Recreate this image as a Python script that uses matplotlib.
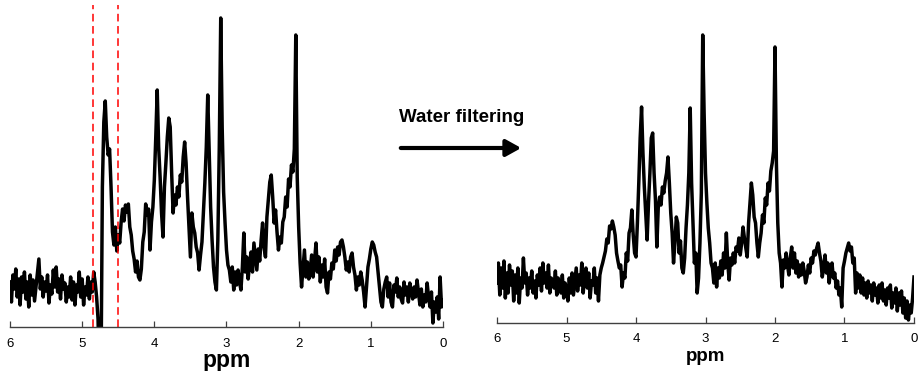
import numpy as np
import matplotlib
matplotlib.use("Agg")
import matplotlib.pyplot as plt

plt.rcParams['font.family'] = ['Liberation Sans', 'DejaVu Sans']

# spectrum intensities (a.u.), sampled every 0.02 ppm from 6.00 down to 0.00
raw_spectrum = [
    45, 25, 52, 38, 58, 30, 48, 22, 50, 35,       # 6.00
    55, 28, 45, 20, 52, 32, 47, 26, 40, 55,       # 5.80
    68, 38, 50, 30, 45, 36, 52, 24, 42, 33,       # 5.60
    57, 40, 60, 35, 48, 28, 52, 38, 44, 25,       # 5.40
    40, 30, 50, 27, 45, 22, 42, 35, 55, 30,       # 5.20
    48, 22, 40, 32, 50, 28, 45, 35, 55, 45,       # 5.00
    30, 8, -60, -60, 140, 205, 226, 190, 172, 178,  # 4.80
    140, 95, 82, 100, 76, 92, 84, 105, 118, 106,  # 4.60
    122, 115, 123, 100, 92, 76, 68, 55, 66, 50,   # 4.40
    47, 58, 85, 95, 123, 112, 118, 77, 105, 120,  # 4.20
    147, 190, 237, 180, 150, 114, 90, 140, 164, 190,  # 4.00
    209, 200, 154, 114, 132, 122, 140, 130, 152, 145,  # 3.80
    170, 185, 164, 130, 100, 70, 114, 100, 94, 80,  # 3.60
    74, 57, 72, 85, 114, 144, 180, 232, 175, 120,  # 3.40
    87, 60, 45, 37, 87, 180, 309, 200, 135, 104,  # 3.20
    77, 62, 57, 45, 60, 37, 55, 42, 57, 45,       # 3.00
    37, 60, 94, 55, 70, 48, 64, 75, 55, 84,       # 2.80
    70, 57, 78, 66, 87, 104, 80, 70, 110, 127,    # 2.60
    145, 152, 130, 104, 117, 95, 77, 90, 84, 105,  # 2.40
    110, 130, 120, 148, 140, 162, 155, 178, 292, 150,  # 2.20
    100, 64, 40, 58, 77, 50, 65, 48, 57, 72,      # 2.00
    50, 66, 84, 55, 70, 45, 62, 50, 68, 40,       # 1.80
    34, 55, 48, 64, 58, 77, 66, 80, 72, 85,       # 1.60
    87, 80, 70, 57, 65, 55, 70, 74, 60, 52,       # 1.40
    37, 50, 42, 55, 47, 35, 20, 40, 60, 68,       # 1.20
    78, 85, 82, 75, 70, 55, 40, 25, 20, 38,       # 1.00
    45, 50, 30, 44, 25, 20, 42, 35, 49, 30,       # 0.80
    40, 28, 24, 45, 32, 40, 25, 44, 35, 28,       # 0.60
    40, 30, 47, 35, 22, 38, 20, 32, 25, 44,       # 0.40
    30, 20, 35, 4, 25, 15, 30, 8, 50, 20,         # 0.20
    27,                                           # 0.00
]

filtered_spectrum = [
    40, 60, 28, 55, 35, 62, 25, 50, 30, 58,       # 6.00
    38, 52, 22, 48, 30, 55, 20, 45, 35, 65,       # 5.80
    40, 50, 28, 45, 35, 52, 30, 42, 25, 48,       # 5.60
    38, 55, 32, 60, 40, 50, 35, 58, 30, 45,       # 5.40
    42, 35, 52, 28, 45, 38, 30, 48, 25, 40,       # 5.20
    35, 22, 45, 30, 50, 28, 42, 55, 32, 48,       # 5.00
    38, 60, 30, 45, 55, 35, 50, 25, 42, 38,       # 4.80
    55, 30, 45, 22, 48, 55, 60, 66, 72, 84,       # 4.60
    80, 97, 94, 102, 96, 88, 70, 62, 55, 58,      # 4.40
    36, 50, 45, 70, 62, 90, 95, 113, 88, 70,      # 4.20
    66, 100, 140, 185, 216, 170, 136, 110, 83, 120,  # 4.00
    150, 185, 190, 150, 123, 76, 115, 126, 118, 136,  # 3.80
    130, 142, 150, 166, 140, 110, 90, 60, 80, 106,  # 3.60
    100, 70, 82, 55, 50, 65, 95, 118, 150, 215,   # 3.40
    140, 100, 60, 70, 30, 45, 80, 130, 288, 210,  # 3.20
    150, 120, 95, 80, 60, 55, 40, 60, 36, 55,     # 3.00
    45, 62, 48, 70, 55, 90, 60, 43, 65, 58,       # 2.80
    70, 60, 76, 72, 85, 68, 80, 96, 85, 75,       # 2.60
    66, 100, 120, 140, 128, 106, 100, 80, 66, 80,  # 2.40
    90, 108, 100, 125, 118, 140, 132, 152, 160, 172,  # 2.20
    276, 160, 100, 70, 60, 36, 63, 55, 70, 58,    # 2.00
    48, 65, 76, 55, 70, 50, 62, 46, 58, 48,       # 1.80
    60, 52, 40, 46, 58, 50, 65, 60, 72, 68,       # 1.60
    75, 80, 70, 62, 46, 55, 68, 50, 60, 40,       # 1.40
    55, 60, 45, 50, 35, 42, 28, 35, 16, 55,       # 1.20
    62, 70, 75, 80, 72, 76, 60, 65, 30, 50,       # 1.00
    35, 48, 30, 45, 28, 40, 25, 42, 30, 38,       # 0.80
    22, 40, 28, 35, 20, 38, 25, 40, 22, 33,       # 0.60
    18, 35, 25, 38, 15, 30, 20, 35, 12, 30,       # 0.40
    18, 32, 10, 25, 5, 22, 3, 18, 10, 25,         # 0.20
    46,                                           # 0.00
]

water_window = [4.85, 4.50]   # ppm limits of the suppressed water region
ppm_ticks = [6, 5, 4, 3, 2, 1, 0]


def style_axis(ax, label_size, tick_pad, label_pad):
    ax.set_xlim(6, 0)
    ax.set_ylim(0, 320)
    for side in ["top", "left", "right"]:
        ax.spines[side].set_visible(False)
    ax.spines["bottom"].set_color("#404040")
    ax.spines["bottom"].set_linewidth(1.0)
    ax.set_yticks([])
    ax.set_xticks(ppm_ticks)
    ax.set_xticklabels([str(t) for t in ppm_ticks])
    ax.tick_params(axis="x", direction="in", length=4, width=0.9, color="#404040",
                   labelsize=9.5, pad=tick_pad)
    ax.set_xlabel("ppm", fontsize=label_size, fontweight="bold", labelpad=label_pad)


fig = plt.figure(figsize=(9.2, 3.71), dpi=100)

ppm_raw = np.linspace(6, 0, len(raw_spectrum))
ppm_filt = np.linspace(6, 0, len(filtered_spectrum))

ax1 = fig.add_axes([10 / 920, 44 / 371, 433 / 920, 322 / 371])
ax1.plot(ppm_raw, raw_spectrum, color="black", lw=2.5, solid_joinstyle="round")
for p in water_window:
    ax1.axvline(p, color="red", lw=1.1, linestyle=(0, (5, 3)))
ax1.set_ylim(0, 322)
style_axis(ax1, 16.5, 8, -1)
ax1.set_ylim(0, 322)

ax2 = fig.add_axes([497 / 920, 48 / 371, 417 / 920, 320 / 371])
ax2.plot(ppm_filt, filtered_spectrum, color="black", lw=2.5, solid_joinstyle="round")
style_axis(ax2, 13.5, 7, 2.5)

# arrow between the two spectra
fig.text(462 / 920, 1 - 118 / 371, "Water filtering", fontsize=13.5, fontweight="bold",
         ha="center", va="center")
fig.add_artist(matplotlib.patches.FancyArrowPatch(
    (398 / 920, 1 - 148 / 371), (524 / 920, 1 - 148 / 371),
    transform=fig.transFigure, arrowstyle="-|>,head_length=9,head_width=5",
    color="black", lw=3, mutation_scale=1))

fig.savefig("out.png", dpi=100)
